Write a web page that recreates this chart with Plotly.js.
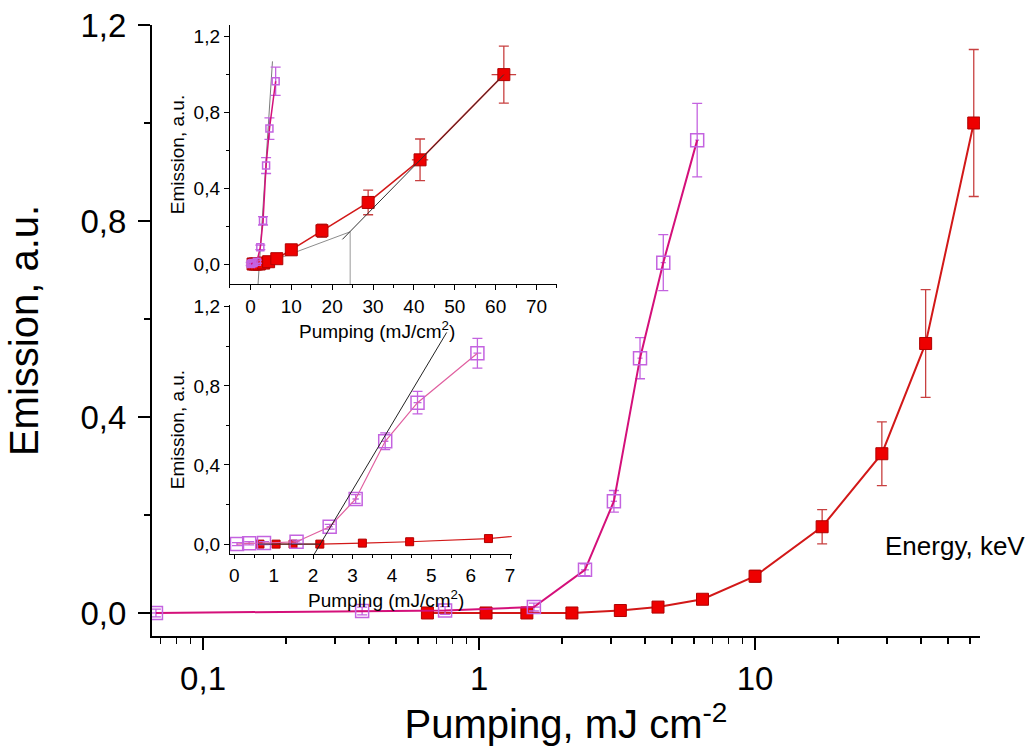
<!DOCTYPE html>
<html>
<head>
<meta charset="utf-8">
<script src="https://cdn.plot.ly/plotly-3.0.1.min.js"></script>
<style>html,body{margin:0;padding:0;background:#fff;}</style>
</head>
<body>
<div id="chart" style="width:1029px;height:755px;"></div>
<script>
// ---- data ----
const pinkX    = [0.0675, 0.377, 0.753, 1.58, 2.42, 3.08, 3.83, 4.65, 6.17];
const pinkY    = [0.0, 0.004, 0.005, 0.012, 0.088, 0.228, 0.52, 0.715, 0.965];
const pinkErrY = [0.008, 0.008, 0.008, 0.008, 0.012, 0.022, 0.042, 0.057, 0.075];
const pinkErrX = [0.004, 0.02, 0.04, 0.08, 0.08, 0.08, 0.08, 0.1, 0.1];

const redX    = [0.65, 1.06, 1.49, 2.17, 3.25, 4.45, 6.45, 10.0, 17.5, 28.8, 41.5, 62.0];
const redY    = [0.0, 0.0, 0.0, 0.0, 0.005, 0.012, 0.028, 0.075, 0.176, 0.325, 0.55, 1.0];
const redErrY = [0.005, 0.005, 0.005, 0.005, 0.005, 0.006, 0.008, 0.012, 0.035, 0.065, 0.11, 0.15];
const redErrX = [0.02, 0.03, 0.04, 0.06, 0.08, 0.1, 0.15, 0.3, 0.6, 1.2, 2.0, 3.0];

// linear fits / threshold guides shown in the insets
const fitPinkX = [1.74, 5.39],  fitPinkY = [-0.147, 1.07];
const fitPinkLowX = [0.6, 2.2], fitPinkLowY = [0, 0];
const fitRedLowX = [4, 24.4],   fitRedLowY = [0.006, 0.17];
const fitRedHighX = [22.5, 62], fitRedHighY = [0.13, 1.0];
const threshX = [24.4, 24.4],   threshY = [0.17, -0.2];

const mainXTicks = [0.1, 1, 10];
const mainXTickText = ['0,1', '1', '10'];
const mainXMinor = [0.07,0.08,0.09,0.2,0.3,0.4,0.5,0.6,0.7,0.8,0.9,2,3,4,5,6,7,8,9,20,30,40,50,60];
const yTicks = [0, 0.4, 0.8, 1.2];
const yMinor = [0.2, 0.6, 1.0];

// ---- styles ----
const PINK_LINE = '#d4107a', PINK_MK = '#c463e0', RED_LINE = '#d21818', RED_MK = '#ee0000';
const F = 'Liberation Sans, Arial, sans-serif';

function pinkTrace(xa, ya, size, lw, err) {
  return {x: pinkX, y: pinkY, xaxis: xa, yaxis: ya, type: 'scatter', mode: 'lines+markers',
    line: {color: PINK_LINE, width: lw},
    marker: {symbol: 'square-open', size: size, color: PINK_MK, line: {width: 1.5, color: PINK_MK}},
    error_y: {type: 'data', array: pinkErrY, visible: err, color: PINK_MK, thickness: 1.3, width: 5},
    error_x: {type: 'data', array: pinkErrX, visible: err, color: PINK_MK, thickness: 1.3, width: 0},
    showlegend: false, cliponaxis: true};
}
function redTrace(xa, ya, size, lw, err) {
  return {x: redX, y: redY, xaxis: xa, yaxis: ya, type: 'scatter', mode: 'lines+markers',
    line: {color: RED_LINE, width: lw},
    marker: {symbol: 'square', size: size, color: RED_MK, line: {width: 1, color: '#b00000'}},
    error_y: {type: 'data', array: redErrY, visible: err, color: '#c84040', thickness: 1.3, width: 5},
    error_x: {type: 'data', array: redErrX, visible: err, color: '#c84040', thickness: 1.3, width: 0},
    showlegend: false, cliponaxis: true};
}
function guide(x, y, xa, ya, color) {
  return {x: x, y: y, xaxis: xa, yaxis: ya, type: 'scatter', mode: 'lines',
    line: {color: color, width: 1}, showlegend: false, hoverinfo: 'skip'};
}

const data = [
  // main
  redTrace('x', 'y', 12, 2, true),
  pinkTrace('x', 'y', 13, 2, true),
  // inset 1 (linear 0-70)
  guide(fitRedLowX, fitRedLowY, 'x2', 'y2', '#8c8c8c'),
  guide(threshX, threshY, 'x2', 'y2', '#9a9a9a'),
  guide(fitPinkX, fitPinkY, 'x2', 'y2', '#7a7a7a'),
  redTrace('x2', 'y2', 12, 1.5, true),
  pinkTrace('x2', 'y2', 7, 1.5, true),
  guide(fitRedHighX, fitRedHighY, 'x2', 'y2', '#333333'),
  // inset 2 (linear 0-7)
  redTrace('x3', 'y3', 8, 1.2, false),
  pinkTrace('x3', 'y3', 13, 1.2, true),
  guide(fitPinkLowX, fitPinkLowY, 'x3', 'y3', '#333333'),
  guide(fitPinkX, fitPinkY, 'x3', 'y3', '#222222')
];
data[9].line.color = '#e060a0';

const insetAxisCommon = {showline: true, linecolor: '#000', linewidth: 1.2, showgrid: false, zeroline: false,
  ticks: 'outside', ticklen: 5, tickwidth: 1, tickcolor: '#000',
  tickfont: {family: F, size: 19, color: '#000'}};

const layout = {
  width: 1029, height: 755,
  margin: {l: 152, r: 49, t: 25, b: 119},
  paper_bgcolor: '#fff', plot_bgcolor: 'rgba(0,0,0,0)',
  separators: ', ',
  font: {family: F, color: '#000'},
  xaxis: {type: 'log', range: [-1.185, 1.815], domain: [0, 1],
    showline: true, linecolor: '#000', linewidth: 2, showgrid: false, zeroline: false,
    tickmode: 'array', tickvals: mainXTicks, ticktext: mainXTickText,
    ticks: 'outside', ticklen: 12, tickwidth: 1.5, tickcolor: '#000',
    minor: {tickmode: 'array', tickvals: mainXMinor, ticks: 'outside', ticklen: 6, tickwidth: 1.5, tickcolor: '#000'},
    tickfont: {family: F, size: 33},
    title: {text: 'Pumping, mJ cm<sup>-2</sup>', font: {family: F, size: 40}, standoff: 2}},
  yaxis: {range: [-0.047, 1.2], domain: [0, 1],
    showline: true, linecolor: '#000', linewidth: 2, showgrid: false, zeroline: false,
    tickmode: 'array', tickvals: yTicks, tickformat: '.1f', ticklabelstandoff: 5,
    ticks: 'outside', ticklen: 12, tickwidth: 1.5, tickcolor: '#000',
    minor: {tickmode: 'array', tickvals: yMinor, ticks: 'outside', ticklen: 6, tickwidth: 1.5, tickcolor: '#000'},
    tickfont: {family: F, size: 33},
    title: {text: 'Emission, a.u.', font: {family: F, size: 40}, standoff: 30}},

  xaxis2: Object.assign({}, insetAxisCommon, {domain: [0.0942, 0.4891], anchor: 'y2', range: [-5, 75],
    dtick: 10, tick0: 0, minor: {dtick: 5, ticks: 'outside', ticklen: 3, tickcolor: '#000'}}),
  yaxis2: Object.assign({}, insetAxisCommon, {domain: [0.5761, 1], anchor: 'x2', range: [-0.1056, 1.262],
    tickmode: 'array', tickvals: yTicks, tickformat: '.1f',
    minor: {tickmode: 'array', tickvals: yMinor, ticks: 'outside', ticklen: 3, tickcolor: '#000'},
    title: {text: 'Emission, a.u.', font: {family: F, size: 19}, standoff: 4}}),

  xaxis3: Object.assign({}, insetAxisCommon, {domain: [0.0942, 0.4344], anchor: 'y3', range: [-0.11, 7.04],
    dtick: 1, tick0: 0, ticklen: 4, minor: {dtick: 0.5, ticks: 'outside', ticklen: 3, tickcolor: '#000'}}),
  yaxis3: Object.assign({}, insetAxisCommon, {domain: [0.1342, 0.5417], anchor: 'x3', range: [-0.05, 1.2086],
    tickmode: 'array', tickvals: yTicks, tickformat: '.1f',
    minor: {tickmode: 'array', tickvals: yMinor, ticks: 'outside', ticklen: 3, tickcolor: '#000'},
    title: {text: 'Emission, a.u.', font: {family: F, size: 19}, standoff: 4}}),

  annotations: [
    {text: 'Energy, keV', xref: 'paper', yref: 'paper', x: 1.0568, y: 0.147,
      xanchor: 'right', yanchor: 'middle', showarrow: false, font: {family: F, size: 26, color: '#000'}},
    {text: 'Pumping (mJ/cm<sup>2</sup>)', xref: 'paper', yref: 'paper', x: 0.2717, y: 0.5008,
      xanchor: 'center', yanchor: 'middle', showarrow: false, font: {family: F, size: 19, color: '#000'}},
    {text: 'Pumping (mJ/cm<sup>2</sup>)', xref: 'paper', yref: 'paper', x: 0.2826, y: 0.0835,
      xanchor: 'center', yanchor: 'top', showarrow: false, font: {family: F, size: 19, color: '#000'}}
  ]
};

Plotly.newPlot('chart', data, layout, {displayModeBar: false, staticPlot: true});
</script>
</body>
</html>
